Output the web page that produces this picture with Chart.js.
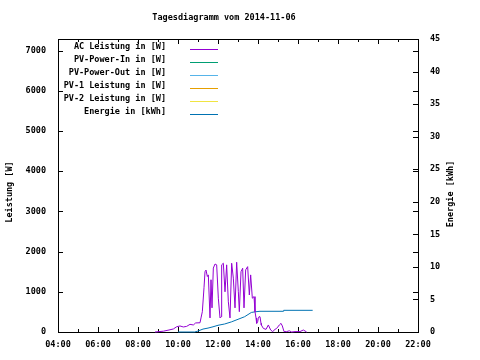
<!DOCTYPE html>
<html>
<head>
<meta charset="utf-8">
<script src="https://cdn.jsdelivr.net/npm/chart.js@4"></script>
<style>
html,body{margin:0;padding:0;background:#fff;}
#wrap{width:480px;height:360px;position:relative;}
</style>
</head>
<body>
<div id="wrap"><canvas id="c" width="480" height="360"></canvas></div>
<script>
const chartTitle = "Tagesdiagramm vom 2014-11-06";
const yTitle = "Leistung [W]";
const y2Title = "Energie [kWh]";
const xTickLabels = ["04:00","06:00","08:00","10:00","12:00","14:00","16:00","18:00","20:00","22:00"];
const yTickValues = [0,1000,2000,3000,4000,5000,6000,7000];
const y2TickValues = [0,5,10,15,20,25,30,35,40,45];
const seriesNames = ["AC Leistung in [W]","PV-Power-In in [W]","PV-Power-Out in [W]","PV-1 Leistung in [W]","PV-2 Leistung in [W]","Energie in [kWh]"];
const seriesColors = ["#9400d3","#009e73","#56b4e9","#e69f00","#f0e442","#0072b2"];

const acTimes = ["08:51","09:16","09:33","09:46","09:56","10:06","10:16","10:26","10:36","10:46","10:53","11:06","11:09","11:13","11:18","11:21","11:24","11:28","11:31","11:36","11:39","11:42","11:46","11:51","11:56","12:01","12:06","12:09","12:11","12:16","12:21","12:26","12:31","12:36","12:41","12:46","12:51","12:56","13:01","13:04","13:09","13:14","13:18","13:23","13:29","13:34","13:38","13:43","13:48","13:51","13:54","13:56","13:59","14:01","14:03","14:06","14:09","14:10","14:16","14:24","14:31","14:38","14:44","14:51","14:56","15:04","15:09","15:13","15:18","15:26","15:34","15:41","15:51","16:06","16:16","16:21","16:26"];
const acValues = [0,20,50,75,130,150,125,140,190,175,225,230,350,505,1100,1500,1540,1380,1420,350,1300,600,1590,1690,1670,840,350,380,1670,1710,1000,1670,750,350,1710,1340,600,1735,1000,505,1500,1585,600,1545,1625,920,1420,840,880,505,350,215,255,340,380,380,215,175,90,65,175,50,10,65,90,175,215,150,10,10,30,0,10,10,50,25,0];

const energyTimes = ["10:00","10:50","11:00","11:15","11:30","11:45","12:00","12:20","12:40","13:00","13:20","13:40","13:51","14:06","15:16","15:17","16:44"];
const energyValues = [0,0,0.15,0.45,0.6,0.8,1.03,1.23,1.55,1.95,2.35,3.0,3.1,3.18,3.18,3.33,3.33];

const pvInValues = [];
const pvOutValues = [];
const pv1Values = [];
const pv2Values = [];

function toHours(s){const p=s.split(":");return +p[0]+(+p[1])/60;}
function pts(times, vals){return times.map((t,i)=>({x:toHours(t),y:vals[i]}));}

const FONT = "DejaVu Sans Mono";
const FS = 8.5;
const FONTSTR = "bold " + FS + "px '" + FONT + "'";

const framePlugin = {
  id:"frame",
  beforeDatasetsDraw(chart){
    const ctx = chart.ctx, a = chart.chartArea;
    const sx = chart.scales.x, sy = chart.scales.y, sy2 = chart.scales.y2;
    ctx.save();
    ctx.strokeStyle = "#000"; ctx.lineWidth = 1;
    ctx.beginPath();
    for (let h = 4; h <= 22; h++) {
      const px = Math.round(sx.getPixelForValue(h)) + 0.5;
      const len = (h % 2 === 0) ? 5 : 3;
      ctx.moveTo(px, a.bottom); ctx.lineTo(px, a.bottom - len);
      ctx.moveTo(px, a.top); ctx.lineTo(px, a.top + len);
    }
    sy.ticks.forEach(t => {
      const py = Math.round(sy.getPixelForValue(t.value)) + 0.5;
      ctx.moveTo(a.left, py); ctx.lineTo(a.left + 5, py);
      ctx.moveTo(a.right, py); ctx.lineTo(a.right - 5, py);
    });
    sy2.ticks.forEach(t => {
      const py = Math.round(sy2.getPixelForValue(t.value)) + 0.5;
      ctx.moveTo(a.right, py); ctx.lineTo(a.right - 5, py);
    });
    ctx.stroke();
    ctx.strokeRect(Math.round(a.left)+0.5, Math.round(a.top)+0.5, Math.round(a.right-a.left), Math.round(a.bottom-a.top));
    ctx.fillStyle = "#000";
    ctx.font = FONTSTR;
    ctx.textAlign = "center"; ctx.textBaseline = "middle";
    ctx.fillText(chartTitle, 224, 18);
    ctx.save(); ctx.translate(10, 192); ctx.rotate(-Math.PI/2); ctx.fillText(yTitle, 0, 0); ctx.restore();
    ctx.save(); ctx.translate(451, 194); ctx.rotate(-Math.PI/2); ctx.fillText(y2Title, 0, 0); ctx.restore();
    chart.data.datasets.forEach((ds, i) => {
      const y = 47 + i * 13;
      ctx.textAlign = "right";
      ctx.fillStyle = "#000";
      ctx.fillText(ds.label, 166, y);
      ctx.strokeStyle = ds.borderColor;
      ctx.beginPath();
      ctx.moveTo(190, y + 2.5); ctx.lineTo(218, y + 2.5);
      ctx.stroke();
    });
    ctx.restore();
  }
};

const ds = (i, data, axis) => ({
  label: seriesNames[i], data, yAxisID: axis,
  borderColor: seriesColors[i], backgroundColor: seriesColors[i],
  borderWidth: 1, pointRadius: 0, tension: 0, fill: false, clip: 2
});

new Chart(document.getElementById("c"), {
  type: "line",
  data: {
    datasets: [
      ds(0, pts(acTimes, acValues), "y"),
      ds(1, pvInValues, "y"),
      ds(2, pvOutValues, "y"),
      ds(3, pv1Values, "y"),
      ds(4, pv2Values, "y"),
      ds(5, pts(energyTimes, energyValues), "y2")
    ]
  },
  options: {
    responsive: false, animation: false,
    layout: { padding: { top: 39, left: 0, right: 0, bottom: 0 } },
    plugins: { legend: { display: false }, title: { display: false }, tooltip: { enabled: false } },
    scales: {
      x: {
        type: "linear", min: 4, max: 22, position: "bottom",
        grid: { display: false }, border: { display: false },
        afterFit(s){ s.height = 28; },
        afterBuildTicks(s){ s.ticks = xTickLabels.map(l => ({ value: toHours(l) })); },
        ticks: { autoSkip: false, maxRotation: 0, padding: 0, color: "#000",
          font: { family: FONT, size: FS, weight: "bold" },
          callback(v){ const i = xTickLabels.findIndex(l => toHours(l) === v); return i >= 0 ? xTickLabels[i] : ""; } }
      },
      y: {
        position: "left", min: 0, max: 7286,
        grid: { display: false }, border: { display: false },
        afterFit(s){ s.width = 58; },
        afterBuildTicks(s){ s.ticks = yTickValues.map(v => ({ value: v })); },
        ticks: { padding: 4, color: "#000", font: { family: FONT, size: FS, weight: "bold" }, callback: v => String(v) }
      },
      y2: {
        position: "right", min: 0, max: 45,
        grid: { display: false }, border: { display: false },
        afterFit(s){ s.width = 62; },
        afterBuildTicks(s){ s.ticks = y2TickValues.map(v => ({ value: v })); },
        ticks: { padding: 4, color: "#000", font: { family: FONT, size: FS, weight: "bold" }, callback: v => String(v) }
      }
    }
  },
  plugins: [framePlugin]
});
</script>
</body>
</html>
